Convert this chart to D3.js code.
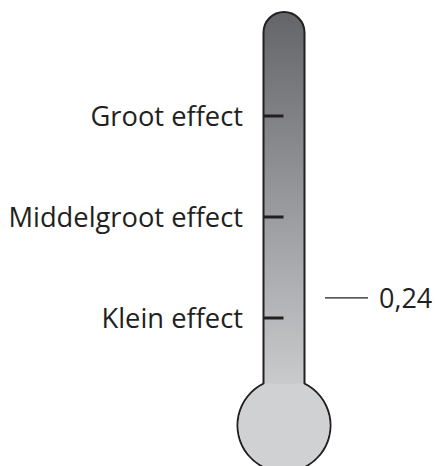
<!DOCTYPE html>
<html>
<head>
<meta charset="utf-8">
<script src="https://cdn.jsdelivr.net/npm/d3@7"></script>
<style>
  body { margin: 0; background: #fff; }
  text { font-family: 'Open Sans', sans-serif; fill: #231f20; }
</style>
</head>
<body>
<div id="plot"></div>
<script>
// effect size levels (Hattie-style barometer)
const levelLabels = ['Klein effect', 'Middelgroot effect', 'Groot effect'];
const levelValues = [0.2, 0.4, 0.6];
const markerValue = 0.24;
const markerLabel = '0,24';

const width = 435;
const height = 466;

const tubeX = 263.5;
const tubeW = 41;
const cx = tubeX + tubeW / 2;
const bulbR = 46.5;

const y = d3.scaleLinear().domain([0.2, 0.6]).range([318, 116]);

const tubeTop = y(0.8) - 3;
const neckY = y(0.07);
const bulbCy = neckY + Math.sqrt(bulbR * bulbR - (tubeW / 2) * (tubeW / 2));

const svg = d3.select('#plot')
    .append('svg')
    .attr('width', width)
    .attr('height', height);

const defs = svg.append('defs');
const grad = defs.append('linearGradient')
    .attr('id', 'fillGrad')
    .attr('gradientUnits', 'userSpaceOnUse')
    .attr('x1', 0).attr('x2', 0)
    .attr('y1', tubeTop).attr('y2', neckY);
grad.append('stop').attr('offset', '0%').attr('stop-color', '#646569');
grad.append('stop').attr('offset', '100%').attr('stop-color', '#c9cacc');

// thermometer outline: rounded top tube + bulb
const r = tubeW / 2;
const a = Math.asin(r / bulbR);
const path = d3.path();
path.moveTo(tubeX, neckY);
path.lineTo(tubeX, tubeTop + r);
path.arc(cx, tubeTop + r, r, Math.PI, 0);
path.lineTo(tubeX + tubeW, neckY);
path.arc(cx, bulbCy, bulbR, -Math.PI / 2 + a, 3 * Math.PI / 2 - a);
path.closePath();

svg.append('path')
    .attr('d', path.toString())
    .attr('fill', 'url(#fillGrad)')
    .attr('stroke', '#231f20')
    .attr('stroke-width', 2);

// bulb fill (solid light)
const b = Math.asin((r - 1) / (bulbR - 1));
const bulb = d3.path();
bulb.moveTo(tubeX + 1, neckY);
bulb.lineTo(tubeX + tubeW - 1, neckY);
bulb.arc(cx, bulbCy, bulbR - 1, -Math.PI / 2 + b, 3 * Math.PI / 2 - b);
bulb.closePath();
svg.append('path')
    .attr('d', bulb.toString())
    .attr('fill', '#d0d1d3');

// ticks and labels
const levels = svg.append('g');
levelValues.forEach((v, i) => {
    levels.append('line')
        .attr('x1', tubeX).attr('x2', tubeX + 20)
        .attr('y1', y(v)).attr('y2', y(v))
        .attr('stroke', '#231f20')
        .attr('stroke-width', 3);
    levels.append('text')
        .attr('x', 243)
        .attr('y', y(v) + 10)
        .attr('text-anchor', 'end')
        .attr('font-size', 27.3)
        .text(levelLabels[i]);
});

// marker
svg.append('line')
    .attr('x1', 325).attr('x2', 368)
    .attr('y1', y(markerValue)).attr('y2', y(markerValue))
    .attr('stroke', '#231f20')
    .attr('stroke-width', 1.3);
svg.append('text')
    .attr('x', 379)
    .attr('y', y(markerValue) + 10)
    .attr('font-size', 27)
    .text(markerLabel);
</script>
</body>
</html>
